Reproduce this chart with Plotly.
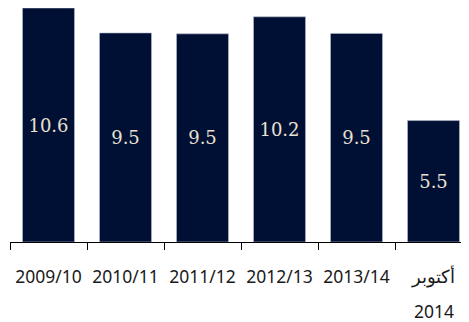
import plotly.graph_objects as go

categories = ["2009/10", "2010/11", "2011/12", "2012/13", "2013/14", "أكتوبر 2014"]
tick_labels = ["2009/10", "2010/11", "2011/12", "2012/13", "2013/14", "أكتوبر"]
second_line = "2014"
values = [10.6, 9.47, 9.43, 10.2, 9.45, 5.5]
labels = ["10.6", "9.5", "9.5", "10.2", "9.5", "5.5"]

fig = go.Figure(
    go.Bar(
        x=categories,
        y=values,
        text=labels,
        textposition="inside",
        insidetextanchor="middle",
        textangle=0,
        constraintext="none",
        textfont=dict(family="DejaVu Serif", size=18, color="#e8e1d2"),
        marker=dict(color="#001034", line=dict(color="#b8bccb", width=0.6)),
        hoverinfo="skip",
    )
)

fig.add_annotation(
    x=categories[-1], xref="x",
    y=-0.295, yref="paper",
    yanchor="middle",
    text=second_line,
    showarrow=False,
    font=dict(family="Noto Sans", size=17.5, color="#1a1a1a"),
)

fig.update_layout(
    width=469,
    height=322,
    margin=dict(l=2, r=5, t=0, b=88, autoexpand=False),
    paper_bgcolor="white",
    plot_bgcolor="white",
    bargap=0.325,
    showlegend=False,
    xaxis=dict(
        type="category",
        automargin=False,
        tickmode="array",
        tickvals=categories,
        ticktext=tick_labels,
        showline=True,
        linecolor="black",
        linewidth=1.3,
        ticks="outside",
        tickson="boundaries",
        ticklen=7,
        tickwidth=1.3,
        tickcolor="black",
        tickfont=dict(family="Noto Sans", size=17.5, color="#1a1a1a"),
        ticklabelstandoff=19,
        showgrid=False,
        zeroline=False,
    ),
    yaxis=dict(
        range=[0, 10.6],
        visible=False,
        showgrid=False,
        zeroline=False,
    ),
)

fig.write_html("out.html")
